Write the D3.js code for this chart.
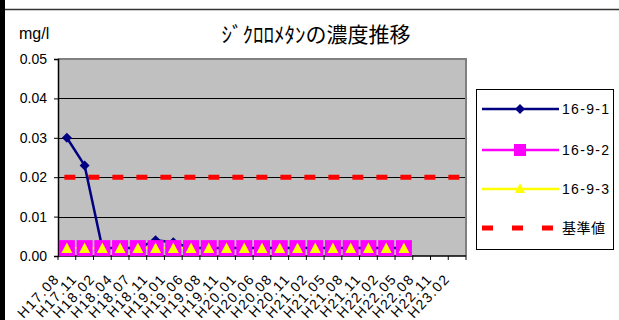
<!DOCTYPE html>
<html>
<head>
<meta charset="utf-8">
<script src="https://cdn.jsdelivr.net/npm/d3@7"></script>
<style>
  html, body { margin: 0; padding: 0; background: #fff; }
  svg { display: block; }
  text { font-family: "Liberation Sans", Arial, "Noto Sans CJK JP", sans-serif; fill: #000; }
</style>
</head>
<body>
<svg id="chart" width="619" height="320"></svg>
<script>
// Sampling dates (Heisei year.month)
const categories = ["H17.08","H17.11","H18.02","H18.04","H18.07","H18.11","H19.01","H19.06",
  "H19.08","H19.11","H20.01","H20.06","H20.08","H20.11","H21.02","H21.05","H21.08","H21.11",
  "H22.02","H22.05","H22.08","H22.11","H23.02"];

// Measured dichloromethane concentration (mg/l) per well
const well1 = [0.030,0.023,0.002,0.002,0.002,0.004,0.0035,0.002,0.002,0.002,
  0.002,0.002,0.002,0.002,0.002,0.002,0.002,0.002,0.002,0.002];
const well2 = [0.002,0.002,0.002,0.002,0.002,0.002,0.002,0.002,0.002,0.002,
  0.002,0.002,0.002,0.002,0.002,0.002,0.002,0.002,0.002,0.002];
const well3 = [0.002,0.002,0.002,0.002,0.002,0.002,0.002,0.002,0.002,0.002,
  0.002,0.002,0.002,0.002,0.002,0.002,0.002,0.002,0.002,0.002];
// Environmental standard value
const standard = categories.map(() => 0.02);

const yTicks = [0, 0.01, 0.02, 0.03, 0.04, 0.05];
const seriesNames = ["16-9-1", "16-9-2", "16-9-3", "基準値"];
const titleText = "ｼﾞｸﾛﾛﾒﾀﾝの濃度推移";
const unitText = "mg/l";

const svg = d3.select("#chart");

// outer frame of the chart sheet
svg.append("rect").attr("x", 0).attr("y", 0).attr("width", 5).attr("height", 320).attr("fill", "#000");
svg.append("line").attr("x1", 5).attr("x2", 619).attr("y1", 9.5).attr("y2", 9.5)
  .attr("stroke", "#333").attr("stroke-width", 1.5);

const plot = { left: 58, right: 466, top: 59, bottom: 256 };

const x = d3.scaleBand().domain(categories).range([plot.left, plot.right]).padding(0);
const cx = c => x(c) + x.bandwidth() / 2;
const y = d3.scaleLinear().domain([0, 0.05]).range([plot.bottom, plot.top]);

// plot background
svg.append("rect")
  .attr("x", plot.left).attr("y", plot.top)
  .attr("width", plot.right - plot.left).attr("height", plot.bottom - plot.top)
  .attr("fill", "#c0c0c0");

// gridlines
svg.append("g").selectAll("line").data(yTicks.filter(v => v > 0 && v < 0.05)).join("line")
  .attr("x1", plot.left).attr("x2", plot.right)
  .attr("y1", d => Math.round(y(d)) + 0.5).attr("y2", d => Math.round(y(d)) + 0.5)
  .attr("stroke", "#000").attr("stroke-width", 1);

// plot area border (top / right)
svg.append("path")
  .attr("d", `M${plot.left},${plot.top} H${plot.right} V${plot.bottom}`)
  .attr("fill", "none").attr("stroke", "#808080").attr("stroke-width", 2);

// y axis
const yAxis = d3.axisLeft(y).tickValues(yTicks).tickFormat(d3.format(".2f")).tickSize(4).tickPadding(7);
const gy = svg.append("g").attr("transform", `translate(${plot.left},0)`).call(yAxis);
gy.select(".domain").attr("stroke", "#000").attr("stroke-width", 1.5);
gy.selectAll(".tick line").attr("stroke", "#000");
gy.selectAll("text").attr("font-size", 14).attr("font-family", "'Liberation Sans', Arial, sans-serif");

// x axis with ticks at category boundaries
const gx = svg.append("g").attr("transform", `translate(0,${plot.bottom})`);
gx.append("line").attr("x1", plot.left).attr("x2", plot.right).attr("y1", 0).attr("y2", 0)
  .attr("stroke", "#000").attr("stroke-width", 1.5);
gx.selectAll("line.tk").data(d3.range(categories.length + 1)).join("line").attr("class", "tk")
  .attr("x1", i => plot.left + i * x.bandwidth()).attr("x2", i => plot.left + i * x.bandwidth())
  .attr("y1", 0).attr("y2", 4).attr("stroke", "#000");
gx.selectAll("text").data(categories).join("text")
  .attr("transform", d => `translate(${cx(d) - 10},${20}) rotate(-47)`)
  .attr("text-anchor", "end").attr("dy", "0.35em")
  .attr("font-size", 14).attr("letter-spacing", 1.5)
  .text(d => d);

// standard value line (red dashes)
const line = d3.line().x(d => d[0]).y(d => d[1]);
svg.append("path")
  .datum(categories.map((c, i) => [cx(c), y(standard[i])]))
  .attr("d", line).attr("fill", "none")
  .attr("stroke", "#ff0000").attr("stroke-width", 5)
  .attr("stroke-linecap", "square").attr("stroke-dasharray", "6,18");

// well 2 line (magenta), well 3 line (yellow), well 1 line (navy)
function drawLine(values, color, w) {
  svg.append("path")
    .datum(values.map((v, i) => [cx(categories[i]), y(v)]))
    .attr("d", line).attr("fill", "none").attr("stroke", color).attr("stroke-width", w);
}
drawLine(well2, "#ff00ff", 2);
drawLine(well3, "#ffff00", 2);
drawLine(well1, "#000080", 2.5);

// well 1 diamonds
const diamond = s => `M0,${-s} L${s},0 L0,${s} L${-s},0 Z`;
svg.append("g").selectAll("path").data(well1).join("path")
  .attr("transform", (d, i) => `translate(${cx(categories[i])},${y(d)})`)
  .attr("d", diamond(5)).attr("fill", "#000080");

// well 2 squares
svg.append("g").selectAll("rect").data(well2).join("rect")
  .attr("x", (d, i) => cx(categories[i]) - 8).attr("y", d => y(d) - 8)
  .attr("width", 16).attr("height", 16).attr("fill", "#ff00ff");

// well 3 triangles
const tri = `M0,-5.5 L5.5,5 L-5.5,5 Z`;
svg.append("g").selectAll("path").data(well3).join("path")
  .attr("transform", (d, i) => `translate(${cx(categories[i])},${y(d)})`)
  .attr("d", tri).attr("fill", "#ffff00");

// title and unit
svg.append("text").attr("x", 316).attr("y", 42).attr("text-anchor", "middle")
  .attr("font-size", 21).attr("font-family", "'Noto Sans CJK JP', sans-serif").text(titleText);
svg.append("text").attr("x", 19).attr("y", 39).attr("font-size", 16).text(unitText);

// legend
const lg = svg.append("g");
lg.append("rect").attr("x", 476.5).attr("y", 89.5).attr("width", 137).attr("height", 160)
  .attr("fill", "#fff").attr("stroke", "#000").attr("stroke-width", 1);
const rowY = [109, 150, 189, 228];
const lx1 = 482, lx2 = 559, lm = 520;
lg.append("line").attr("x1", lx1).attr("x2", lx2).attr("y1", rowY[0]).attr("y2", rowY[0]).attr("stroke", "#000080").attr("stroke-width", 2.5);
lg.append("path").attr("transform", `translate(${lm},${rowY[0]})`).attr("d", diamond(5)).attr("fill", "#000080");
lg.append("line").attr("x1", lx1).attr("x2", lx2).attr("y1", rowY[1]).attr("y2", rowY[1]).attr("stroke", "#ff00ff").attr("stroke-width", 2.5);
lg.append("rect").attr("x", lm - 6).attr("y", rowY[1] - 6).attr("width", 12).attr("height", 12).attr("fill", "#ff00ff");
lg.append("line").attr("x1", lx1).attr("x2", lx2).attr("y1", rowY[2]).attr("y2", rowY[2]).attr("stroke", "#ffff00").attr("stroke-width", 2.5);
lg.append("path").attr("transform", `translate(${lm},${rowY[2]})`).attr("d", "M0,-6 L5,4 L-5,4 Z").attr("fill", "#ffff00");
lg.append("line").attr("x1", lx1 + 2.5).attr("x2", lx2).attr("y1", rowY[3]).attr("y2", rowY[3])
  .attr("stroke", "#ff0000").attr("stroke-width", 5).attr("stroke-linecap", "square").attr("stroke-dasharray", "6,24");
lg.selectAll("text.lbl").data(seriesNames).join("text").attr("class", "lbl")
  .attr("x", 562).attr("y", (d, i) => rowY[i]).attr("dy", "0.36em")
  .attr("font-size", 14).attr("letter-spacing", (d, i) => i < 3 ? 1.3 : 0.5)
  .attr("font-family", (d, i) => i < 3 ? "'Liberation Sans', Arial, sans-serif" : "'Noto Sans CJK JP', sans-serif")
  .text(d => d);
</script>
</body>
</html>
